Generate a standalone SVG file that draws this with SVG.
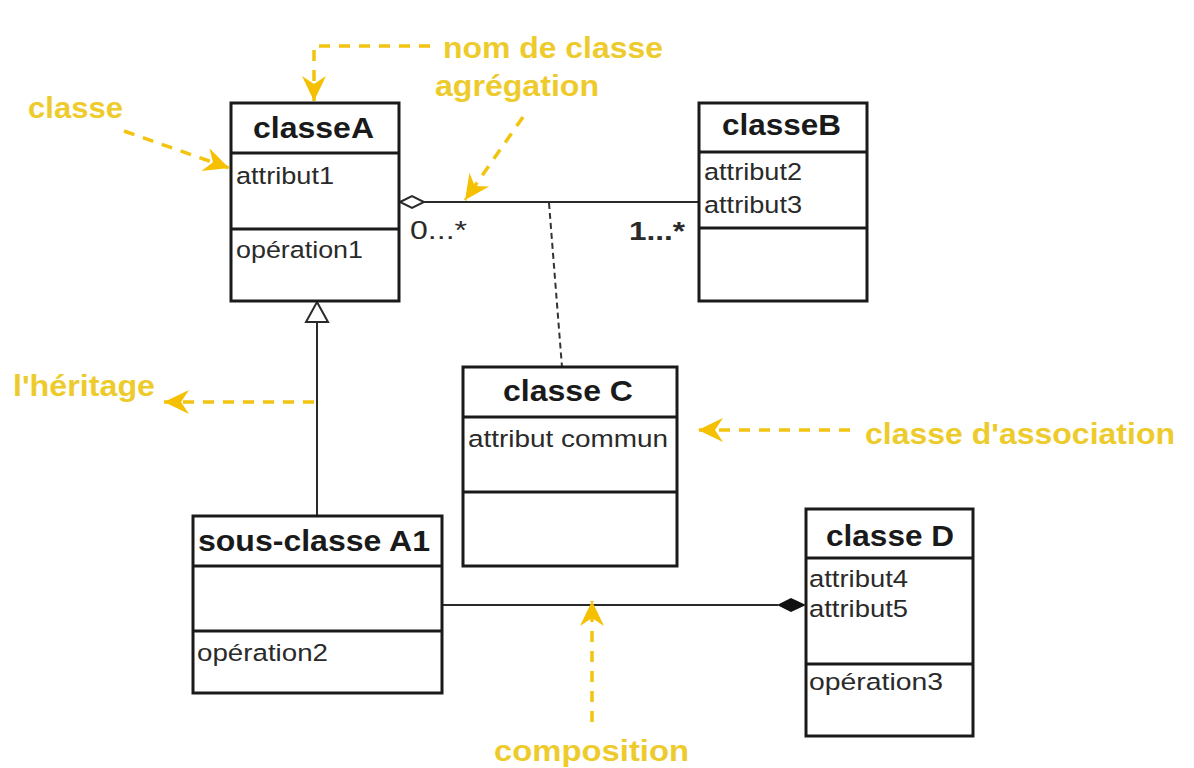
<svg xmlns="http://www.w3.org/2000/svg" width="1194" height="768" viewBox="0 0 1194 768">
  <style>
    text { font-family: "Liberation Sans", Arial, sans-serif; }
    .box { fill: #ffffff; stroke: #1a1a1a; stroke-width: 3; }
    .sep { stroke: #1a1a1a; stroke-width: 3; }
    .title { font-weight: bold; font-size: 30px; fill: #1a1a1a; }
    .item { font-size: 24.5px; fill: #2a2a2a; }
    .mult { font-size: 26px; fill: #2a2a2a; }
    .link { stroke: #2a2a2a; stroke-width: 2; fill: none; }
    .assoc { stroke: #333333; stroke-width: 2; fill: none; stroke-dasharray: 6 4; }
    .note { font-weight: bold; font-size: 29px; fill: #eecb2c; }
    .pointer { stroke: #f2c40f; stroke-width: 3.5; fill: none; stroke-dasharray: 11 9; }
  </style>
  <defs>
    <marker id="yellowHead" viewBox="-26 -13 28 26" refX="0" refY="0" markerWidth="28" markerHeight="26" markerUnits="userSpaceOnUse" orient="auto">
      <path d="M0,0 L-25,-12 L-17,0 L-25,12 Z" fill="#f5c000"/>
    </marker>
  </defs>

  <rect width="1194" height="768" fill="#ffffff"/>

  <!-- connectors between classes -->
  <g id="connectors">
    <!-- aggregation classeA <> classeB -->
    <line class="link" x1="424" y1="202" x2="699" y2="202"/>
    <path d="M400,202 L412,196 L424,202 L412,208 Z" fill="#ffffff" stroke="#2a2a2a" stroke-width="2"/>
    <!-- association class link -->
    <line class="assoc" x1="549" y1="203" x2="562" y2="367"/>
    <!-- inheritance sous-classe A1 -> classeA -->
    <line class="link" x1="317" y1="322" x2="317" y2="516"/>
    <path d="M317,302 L328,322 L306,322 Z" fill="#ffffff" stroke="#2a2a2a" stroke-width="2"/>
    <!-- composition sous-classe A1 -> classe D -->
    <line class="link" x1="442" y1="605" x2="778" y2="605"/>
    <path d="M777,605 L791,598 L806,605 L791,612 Z" fill="#111111"/>
    <text class="mult" x="410" y="239" textLength="57" lengthAdjust="spacingAndGlyphs">0...*</text>
    <text class="mult" x="629" y="240" font-weight="bold" textLength="56" lengthAdjust="spacingAndGlyphs">1...*</text>
  </g>

  <g id="classeA">
    <rect class="box" x="231" y="103" width="168" height="198"/>
    <line class="sep" x1="231" y1="153" x2="399" y2="153"/>
    <line class="sep" x1="231" y1="229" x2="399" y2="229"/>
    <text class="title" x="253" y="138" textLength="121" lengthAdjust="spacingAndGlyphs">classeA</text>
    <text class="item" x="236" y="184" textLength="98" lengthAdjust="spacingAndGlyphs">attribut1</text>
    <text class="item" x="236" y="258" textLength="127" lengthAdjust="spacingAndGlyphs">opération1</text>
  </g>

  <g id="classeB">
    <rect class="box" x="699" y="103" width="168" height="198"/>
    <line class="sep" x1="699" y1="152" x2="867" y2="152"/>
    <line class="sep" x1="699" y1="228" x2="867" y2="228"/>
    <text class="title" x="722" y="135" textLength="119" lengthAdjust="spacingAndGlyphs">classeB</text>
    <text class="item" x="704" y="180" textLength="98" lengthAdjust="spacingAndGlyphs">attribut2</text>
    <text class="item" x="704" y="213" textLength="98" lengthAdjust="spacingAndGlyphs">attribut3</text>
  </g>

  <g id="classeC">
    <rect class="box" x="463" y="367" width="214" height="199"/>
    <line class="sep" x1="463" y1="417" x2="677" y2="417"/>
    <line class="sep" x1="463" y1="492" x2="677" y2="492"/>
    <text class="title" x="503" y="401" textLength="130" lengthAdjust="spacingAndGlyphs">classe C</text>
    <text class="item" x="468" y="447" textLength="200" lengthAdjust="spacingAndGlyphs">attribut commun</text>
  </g>

  <g id="sousClasseA1">
    <rect class="box" x="193" y="516" width="249" height="177"/>
    <line class="sep" x1="193" y1="566" x2="442" y2="566"/>
    <line class="sep" x1="193" y1="631" x2="442" y2="631"/>
    <text class="title" x="198" y="551" textLength="232" lengthAdjust="spacingAndGlyphs">sous-classe A1</text>
    <text class="item" x="197" y="661" textLength="131" lengthAdjust="spacingAndGlyphs">opération2</text>
  </g>

  <g id="classeD">
    <rect class="box" x="806" y="509" width="167" height="227"/>
    <line class="sep" x1="806" y1="558" x2="973" y2="558"/>
    <line class="sep" x1="806" y1="664" x2="973" y2="664"/>
    <text class="title" x="826" y="546" textLength="128" lengthAdjust="spacingAndGlyphs">classe D</text>
    <text class="item" x="809" y="587" textLength="99" lengthAdjust="spacingAndGlyphs">attribut4</text>
    <text class="item" x="809" y="617" textLength="99" lengthAdjust="spacingAndGlyphs">attribut5</text>
    <text class="item" x="809" y="690" textLength="134" lengthAdjust="spacingAndGlyphs">opération3</text>
  </g>

  <!-- yellow explanatory labels and their pointers -->
  <g id="annotations">
    <path class="pointer" d="M430,46 L314,46 L314,101" marker-end="url(#yellowHead)"/>
    <text class="note" x="443" y="58" textLength="220" lengthAdjust="spacingAndGlyphs">nom de classe</text>

    <line class="pointer" x1="523" y1="117" x2="465" y2="200" marker-end="url(#yellowHead)"/>
    <text class="note" x="435" y="96" textLength="164" lengthAdjust="spacingAndGlyphs">agrégation</text>

    <line class="pointer" x1="124" y1="131" x2="229" y2="168" marker-end="url(#yellowHead)"/>
    <text class="note" x="28" y="118" textLength="95" lengthAdjust="spacingAndGlyphs">classe</text>

    <line class="pointer" x1="314" y1="402" x2="164" y2="402" marker-end="url(#yellowHead)"/>
    <text class="note" x="13" y="396" textLength="142" lengthAdjust="spacingAndGlyphs">l'héritage</text>

    <line class="pointer" x1="850" y1="430" x2="698" y2="430" marker-end="url(#yellowHead)"/>
    <text class="note" x="865" y="444" textLength="310" lengthAdjust="spacingAndGlyphs">classe d'association</text>

    <line class="pointer" x1="592" y1="722" x2="592" y2="601" marker-end="url(#yellowHead)"/>
    <text class="note" x="494" y="761" textLength="195" lengthAdjust="spacingAndGlyphs">composition</text>
  </g>
</svg>
